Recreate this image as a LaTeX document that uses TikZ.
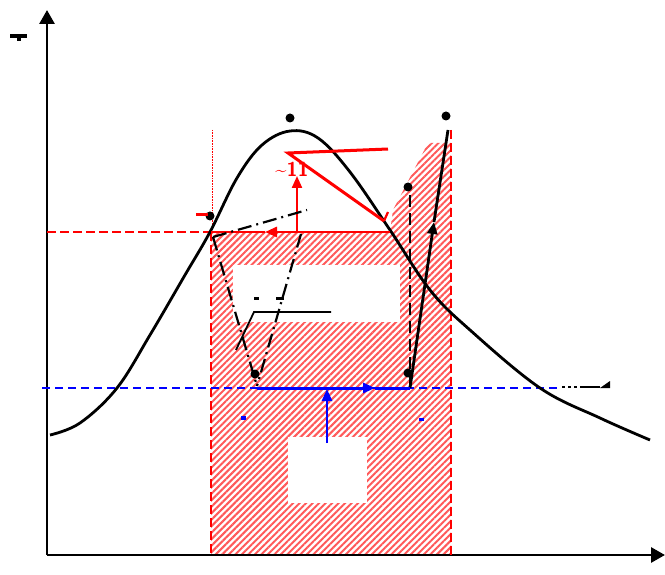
\documentclass[tikz,border=0pt]{standalone}
\usetikzlibrary{arrows.meta,patterns.meta}

\begin{document}
\begin{tikzpicture}[x=1pt, y=-1pt,
  dot/.style={circle, fill=black, inner sep=0pt, minimum size=9pt},
  axis/.style={line width=2.8pt, -{Triangle[length=14pt, width=15pt]}},
  zone/.style={pattern={Lines[angle=45, distance=4.6pt, line width=2pt]}, pattern color=red!65},
  bound/.style={red, line width=1.8pt, dash pattern=on 9pt off 4pt},
  cycle/.style={line width=2.8pt},
  tip/.style={-{Triangle[length=12pt, width=10pt]}}]
\useasboundingbox (0,0) rectangle (665,575);

% hatched zone and its white cut-outs
\fill[zone] (211,232) -- (390,232) -- (393,210) -- (428,143) -- (451,143) -- (451,555) -- (211,555) -- cycle;
\fill[white] (233,265) rectangle (400,322);
\fill[white] (288,437) rectangle (367,503);

% axes
\coordinate (o) at (47,555);
\coordinate (ytop) at (47,10);
\coordinate (xend) at (665,555);
\draw[axis] (o) -- (ytop);
\draw[axis] (o) -- (xend);
\fill (10,34) rectangle (27,38);
\fill (17,38) rectangle (21,41);

% reference lines
\draw[bound] (211,232) -- (211,555);
\draw[bound] (451,130) -- (451,555);
\draw[red, densely dotted, line width=0.6pt] (212,130) -- (212,232);
\draw[bound, line width=1.5pt] (47,232) -- (211,232);
\draw[blue, line width=1.6pt, dash pattern=on 8pt off 5pt] (42,388) -- (560,388);

% points
\node[dot] (p1) at (290,118) {};
\node[dot] (p2) at (446,116) {};
\node[dot] (p3) at (210,216) {};
\node[dot] (p4) at (408,187) {};
\node[dot] (p5) at (255,374) {};
\node[dot] (p6) at (408,373) {};

% curve
\draw[line width=2.8pt] plot[smooth, tension=0.6] coordinates {(50,435) (80,423) (117,388) (150,335) (185,275) (210,232) (237,178) (262,145) (290,131) (318,138) (350,172) (390,230) (430,290) (470,330) (540,388) (600,418) (650,440)};

% red part
\coordinate (r1) at (211,232);
\coordinate (r2) at (390,232);
\coordinate (rm) at (265,232);
\draw[red, cycle, tip] (r2) -- (rm);
\draw[red, cycle] (rm) -- (r1);
\coordinate (s0) at (297,232);
\coordinate (s1) at (297,176);
\draw[red, line width=2.2pt, tip] (s0) -- (s1);
\coordinate (t1) at (288,153);
\coordinate (t2) at (388,149);
\coordinate (t3) at (384,221);
\draw[red, line width=3pt] (t2) -- (t1) -- (t3);
\draw[red, line width=2.2pt] (384,221) -- (388,212);
\node[text=red, font=\sffamily\bfseries\fontsize{20}{22}\selectfont, inner sep=0pt, anchor=south] (lbl) at (292,177) {\textasciitilde11};
\fill[red] (196,213) rectangle (208,216);

% black dash-dot lines
\coordinate (c1) at (213,237);
\coordinate (c2) at (307,210);
\coordinate (c3) at (257,386);
\coordinate (c4) at (301,234);
\draw[line width=2.2pt, dash pattern=on 14pt off 5pt on 2pt off 5pt] (c1) -- (c2);
\draw[line width=2.2pt, dash pattern=on 14pt off 5pt on 2pt off 5pt] (c1) -- (c3);
\draw[line width=2.2pt, dash pattern=on 14pt off 5pt on 2pt off 5pt] (c4) -- (c3);
\draw[line width=1.8pt] (236,350) -- (254,312) -- (331,312);
\fill (254,297) rectangle (259,300);
\fill (276,297) rectangle (284,300);

% right side black lines
\coordinate (d1) at (410,388);
\coordinate (d2) at (448,130);
\coordinate (dm) at (434,222);
\draw[cycle, tip] (d1) -- (dm);
\draw[cycle] (dm) -- (d2);
\draw[line width=2.2pt, dash pattern=on 12pt off 6pt] (410,195) -- (410,385);

% blue part
\coordinate (b1) at (257,388);
\coordinate (b2) at (410,388);
\coordinate (bm) at (375,388);
\draw[blue, line width=3pt, tip] (b1) -- (bm);
\draw[blue, line width=3pt] (bm) -- (b2);
\coordinate (u0) at (327,443);
\coordinate (u1) at (327,389);
\draw[blue, line width=2.6pt, tip] (u0) -- (u1);
\fill[blue] (241,416) rectangle (246,420);
\fill[blue] (419,418) rectangle (424,421);

% fragment at the right
\draw[line width=1.6pt, dash pattern=on 3pt off 3pt] (562,387) -- (580,387);
\draw[line width=1.6pt] (580,387) -- (600,387);
\fill (600,388) -- (610,388) -- (610,381) -- cycle;
\end{tikzpicture}
\end{document}
